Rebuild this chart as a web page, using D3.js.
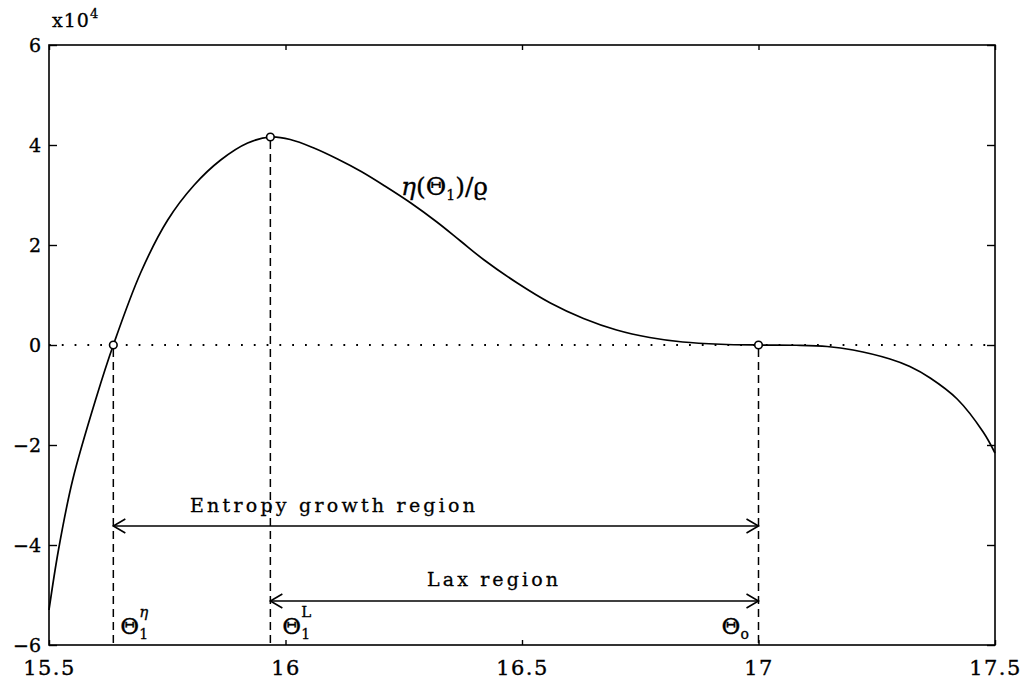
<!DOCTYPE html>
<html>
<head>
<meta charset="utf-8">
<script src="https://cdn.jsdelivr.net/npm/d3@7"></script>
<style>
  body { margin: 0; background: #fff; }
  svg { display: block; }
  .axis text { font-family: "DejaVu Serif", serif; font-size: 19px; fill: #000; stroke: #000; stroke-width: 0.35; }
  .axis path, .axis line { stroke: #000; stroke-width: 1.4; }
  .lbl { font-family: "DejaVu Serif", serif; fill: #000; stroke: #000; stroke-width: 0.3; }
</style>
</head>
<body>
<div id="chart"></div>
<script>
// values (eta in units of 1e4)
const thetaTicks = [15.5, 16, 16.5, 17, 17.5];
const etaTicks = [-6, -4, -2, 0, 2, 4, 6];

const curveTheta = [15.5, 15.52, 15.55, 15.6, 15.636, 15.694, 15.751, 15.807, 15.863,
  15.92, 15.968, 16.01, 16.06, 16.11, 16.16, 16.21, 16.265, 16.32, 16.37, 16.42, 16.49,
  16.56, 16.63, 16.7, 16.77, 16.84, 16.92, 17.0, 17.08, 17.145, 17.2, 17.278, 17.32,
  17.363, 17.42, 17.475, 17.5];
const curveEta = [-5.3, -4.1, -2.7, -1.05, 0, 1.45, 2.5, 3.2, 3.7,
  4.04, 4.16, 4.11, 3.94, 3.72, 3.47, 3.18, 2.84, 2.46, 2.08, 1.7, 1.24,
  0.84, 0.53, 0.3, 0.15, 0.06, 0.015, 0.0, -0.005, -0.03, -0.1, -0.28, -0.43,
  -0.66, -1.08, -1.74, -2.16];

// special points: theta1^eta, theta1^L, theta0
const markerTheta = [15.636, 15.968, 17.0];
const markerEta = [0, 4.16, 0];

// region arrows
const regionNames = ["Entropy growth region", "Lax region"];
const regionFrom = [15.636, 15.968];
const regionTo = [17.0, 17.0];
const regionEta = [-3.62, -5.12];

const width = 1031, height = 686;
const svg = d3.select("#chart").append("svg")
  .attr("width", width)
  .attr("height", height);

const x = d3.scaleLinear().domain([15.5, 17.5]).range([49, 995]);
const y = d3.scaleLinear().domain([-6, 6]).range([645, 45]);

// frame
svg.append("rect")
  .attr("x", x(15.5)).attr("y", y(6))
  .attr("width", x(17.5) - x(15.5)).attr("height", y(-6) - y(6))
  .attr("fill", "none").attr("stroke", "#000").attr("stroke-width", 1.6);

// axes, ticks pointing inward
svg.append("g").attr("class", "axis")
  .attr("transform", `translate(${x(15.5)},0)`)
  .call(d3.axisLeft(y).tickValues(etaTicks).tickSize(-8).tickPadding(8)
    .tickFormat(d => d < 0 ? "\u2212" + Math.abs(d) : d))
  .call(g => g.select(".domain").remove());
svg.append("g").attr("class", "axis")
  .attr("transform", `translate(${x(17.5)},0)`)
  .call(d3.axisRight(y).tickValues(etaTicks).tickSize(-8).tickFormat(""))
  .call(g => g.select(".domain").remove());
svg.append("g").attr("class", "axis")
  .attr("transform", `translate(0,${y(-6)})`)
  .call(d3.axisBottom(x).tickValues(thetaTicks).tickSize(-5).tickPadding(15)
    .tickFormat(d3.format("")))
  .call(g => g.select(".domain").remove())
  .call(g => g.selectAll("text").style("font-size", "21px").style("letter-spacing", "1.5px"));
svg.append("g").attr("class", "axis")
  .attr("transform", `translate(0,${y(6)})`)
  .call(d3.axisTop(x).tickValues(thetaTicks).tickSize(-5).tickFormat(""))
  .call(g => g.select(".domain").remove());

// x10^4 multiplier
const mult = svg.append("text").attr("class", "lbl")
  .attr("x", 52).attr("y", 27).style("font-size", "19px").style("letter-spacing", "1px");
mult.append("tspan").text("x10");
mult.append("tspan").attr("dy", -9).style("font-size", "13px").text("4");

// zero line
svg.append("line")
  .attr("x1", x(15.5)).attr("x2", x(17.5))
  .attr("y1", y(0)).attr("y2", y(0))
  .attr("stroke", "#000").attr("stroke-width", 1.8)
  .attr("stroke-dasharray", "1.8 11");

// dashed drop lines
const markers = markerTheta.map((t, i) => ({ t, e: markerEta[i] }));
svg.selectAll(".drop")
  .data(markers)
  .join("line")
  .attr("class", "drop")
  .attr("x1", d => x(d.t)).attr("x2", d => x(d.t))
  .attr("y1", d => y(d.e) + 4).attr("y2", y(-6))
  .attr("stroke", "#000").attr("stroke-width", 1.5)
  .attr("stroke-dasharray", "8 5");

// curve
const pts = curveTheta.map((t, i) => [t, curveEta[i]]);
svg.append("path")
  .datum(pts)
  .attr("d", d3.line().x(d => x(d[0])).y(d => y(d[1])).curve(d3.curveCatmullRom.alpha(0.5)))
  .attr("fill", "none")
  .attr("stroke", "#000")
  .attr("stroke-width", 1.7);

// circles
svg.selectAll(".mark")
  .data(markers)
  .join("circle")
  .attr("class", "mark")
  .attr("cx", d => x(d.t)).attr("cy", d => y(d.e))
  .attr("r", 3.8)
  .attr("fill", "#fff").attr("stroke", "#000").attr("stroke-width", 1.6);

// region arrows
const regions = regionNames.map((n, i) => ({
  name: n, a: regionFrom[i], b: regionTo[i], e: regionEta[i]
}));
const rg = svg.selectAll(".region").data(regions).join("g").attr("class", "region");
rg.append("line")
  .attr("x1", d => x(d.a)).attr("x2", d => x(d.b))
  .attr("y1", d => y(d.e)).attr("y2", d => y(d.e))
  .attr("stroke", "#000").attr("stroke-width", 1.4);
rg.append("path")
  .attr("d", d => {
    const x0 = x(d.a), x1 = x(d.b), yy = y(d.e);
    return `M${x0 + 12},${yy - 7}L${x0},${yy}L${x0 + 12},${yy + 7}` +
      `M${x1 - 12},${yy - 7}L${x1},${yy}L${x1 - 12},${yy + 7}`;
  })
  .attr("fill", "none").attr("stroke", "#000").attr("stroke-width", 1.6);

svg.append("text").attr("class", "lbl")
  .attr("x", 190).attr("y", y(regionEta[0]) - 14)
  .attr("textLength", 285).attr("lengthAdjust", "spacing")
  .style("font-size", "19px").text(regionNames[0]);
svg.append("text").attr("class", "lbl")
  .attr("x", 427).attr("y", y(regionEta[1]) - 15)
  .attr("textLength", 131).attr("lengthAdjust", "spacing")
  .style("font-size", "19px").text(regionNames[1]);

// curve label eta(theta1)/rho
const cl = svg.append("text").attr("class", "lbl")
  .attr("x", 401).attr("y", 195).style("font-size", "25px");
cl.append("tspan").style("font-style", "italic").text("\u03B7");
cl.append("tspan").text("(\u0398");
cl.append("tspan").attr("dy", 5).style("font-size", "14px").text("1");
cl.append("tspan").attr("dy", -5).text(")/\u03F1");

// theta labels at the bottom
function thetaLabel(px, sub, sup) {
  const t = svg.append("text").attr("class", "lbl")
    .attr("x", px).attr("y", 634).style("font-size", "23px");
  t.append("tspan").text("\u0398");
  const sx = px + 19;
  t.append("tspan").attr("x", sx).attr("dy", 5).style("font-size", "14px").text(sub);
  if (sup) {
    t.append("tspan").attr("x", sx).attr("dy", -22)
      .style("font-size", "15px").style("font-style", sup === "L" ? "normal" : "italic").text(sup);
  }
}
thetaLabel(x(markerTheta[0]) + 7, "1", "\u03B7");
thetaLabel(x(markerTheta[1]) + 12, "1", "L");
thetaLabel(x(markerTheta[2]) - 37, "o", null);
</script>
</body>
</html>
